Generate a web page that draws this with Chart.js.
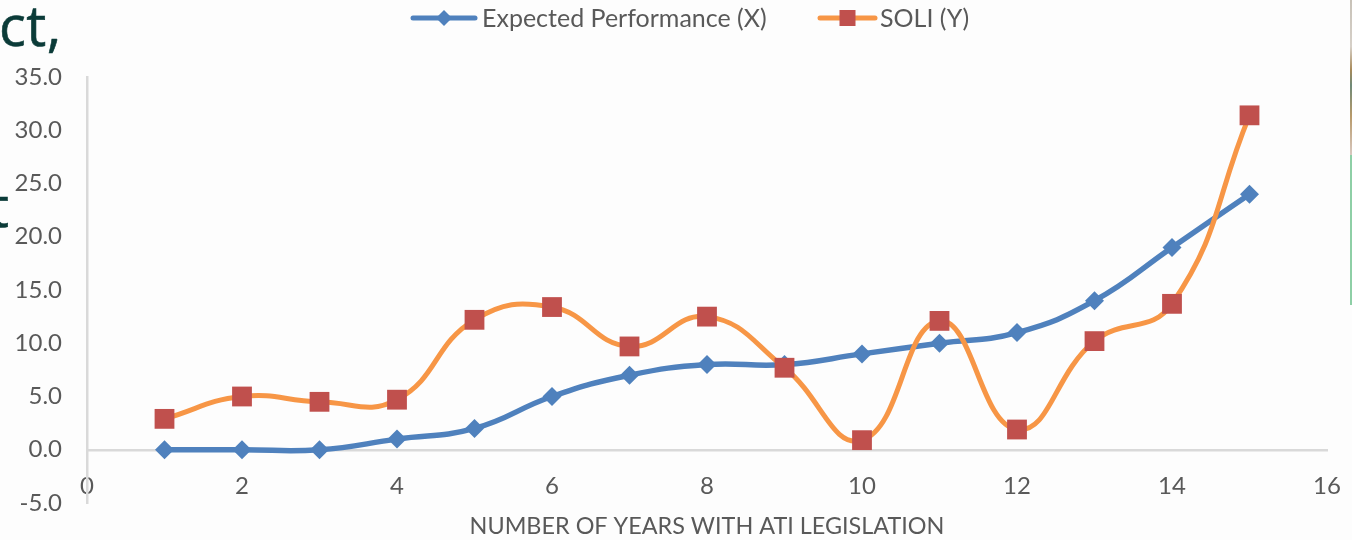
<!DOCTYPE html>
<html>
<head>
<meta charset="utf-8">
<script src="https://cdn.jsdelivr.net/npm/chart.js@4.4.1/dist/chart.umd.min.js"></script>
<style>
  html, body { margin: 0; padding: 0; background: #ffffff; }
  #wrap { position: relative; width: 1352px; height: 540px; overflow: hidden; background: #fdfdfd; }
  #c { position: absolute; left: 0; top: 0; }
  .deco { position: absolute; font-family: "Open Sans", sans-serif; color: #0b3b38; font-size: 56px; line-height: 1; letter-spacing: 0.5px; white-space: nowrap; -webkit-text-stroke: 0.6px #0b3b38; }
  #greenbar { position: absolute; left: 1350px; top: 155px; width: 2px; height: 150px; background: #8ecfa6; }
  #noisebar { position: absolute; left: 1350px; top: 0px; width: 2px; height: 155px;
    background: linear-gradient(#c8c2b8 0%, #d6d0c8 30%, #a88a5a 45%, #6f8a78 55%, #b89a6a 75%, #d8c8c0 100%); }
</style>
</head>
<body>
<div id="wrap">
  <canvas id="c" width="1352" height="540"></canvas>
  <div class="deco" style="left:-1px; top:-4px;">ct,</div>
  <div class="deco" style="left:-11px; top:177px;">t</div>
  <div id="noisebar"></div>
  <div id="greenbar"></div>
</div>
<script>
// ---- data ----
const years = [1, 2, 3, 4, 5, 6, 7, 8, 9, 10, 11, 12, 13, 14, 15];
const expectedPerformance = [0, 0, 0, 1, 2, 5, 7, 8, 8, 9, 10, 11, 14, 19, 24];
const soli = [2.9, 5.0, 4.5, 4.7, 12.2, 13.4, 9.7, 12.5, 7.7, 0.9, 12.1, 1.9, 10.2, 13.7, 31.4];
const seriesNames = ['Expected Performance (X)', 'SOLI (Y)'];
const xTitle = 'NUMBER OF YEARS WITH ATI LEGISLATION';

const BLUE = '#4f81bd';
const ORANGE = '#f79646';
const RED = '#c0504d';
const TEXT = '#595959';
const AXIS = '#d9d9d9';
const FONT = 'Lato, "Open Sans", sans-serif';

const toPts = (xs, ys) => xs.map((x, i) => ({ x: x, y: ys[i] }));

// custom legend (line + marker) and x-axis title
const legendAndTitle = {
  id: 'legendAndTitle',
  afterDraw(chart) {
    const ctx = chart.ctx;
    const a = chart.chartArea;
    ctx.save();
    // x title
    ctx.font = '23.4px ' + FONT;
    ctx.fillStyle = TEXT;
    ctx.textAlign = 'center';
    ctx.textBaseline = 'middle';
    ctx.fillText(xTitle, (a.left + a.right) / 2, 526);

    // legend
    const ly = 18;
    const items = [
      { x0: 413, x1: 475, tx: 482, line: BLUE, mark: BLUE, shape: 'diamond', text: seriesNames[0] },
      { x0: 820, x1: 875, tx: 880, line: ORANGE, mark: RED, shape: 'square', text: seriesNames[1] }
    ];
    items.forEach(it => {
      ctx.strokeStyle = it.line;
      ctx.lineWidth = 5;
      ctx.lineCap = 'round';
      ctx.beginPath(); ctx.moveTo(it.x0, ly); ctx.lineTo(it.x1, ly); ctx.stroke();
      const cx = (it.x0 + it.x1) / 2;
      ctx.fillStyle = it.mark;
      if (it.shape === 'diamond') {
        ctx.beginPath(); ctx.moveTo(cx - 8, ly); ctx.lineTo(cx, ly - 8); ctx.lineTo(cx + 8, ly); ctx.lineTo(cx, ly + 8); ctx.closePath(); ctx.fill();
      } else {
        ctx.fillRect(cx - 8, ly - 8, 16, 16);
      }
      ctx.font = '25px ' + FONT;
      ctx.fillStyle = TEXT;
      ctx.textAlign = 'left';
      ctx.textBaseline = 'middle';
      ctx.fillText(it.text, it.tx, ly + 1);
    });
    ctx.restore();
  }
};

new Chart(document.getElementById('c'), {
  type: 'scatter',
  data: {
    datasets: [
      {
        label: seriesNames[0],
        data: toPts(years, expectedPerformance),
        showLine: true,
        borderColor: BLUE,
        backgroundColor: BLUE,
        borderWidth: 5.5,
        tension: 0.45,
        pointStyle: 'rectRot',
        pointRadius: 9.5,
        pointBorderWidth: 0,
        pointBackgroundColor: BLUE,
        order: 2
      },
      {
        label: seriesNames[1],
        data: toPts(years, soli),
        showLine: true,
        borderColor: ORANGE,
        backgroundColor: RED,
        borderWidth: 5,
        tension: 0.45,
        pointStyle: 'rect',
        pointRadius: 14,
        pointBorderWidth: 0,
        pointBackgroundColor: RED,
        order: 1
      }
    ]
  },
  options: {
    responsive: false,
    animation: false,
    devicePixelRatio: 1,
    layout: { padding: { left: 0, right: 25, top: 77, bottom: 37 } },
    plugins: {
      legend: { display: false },
      tooltip: { enabled: false }
    },
    scales: {
      x: {
        type: 'linear',
        position: { y: 0 },
        min: 0, max: 16,
        ticks: { stepSize: 2, color: TEXT, font: { family: FONT, size: 24 }, padding: 22 },
        grid: { display: false, drawTicks: false },
        border: { display: true, color: AXIS, width: 2.5 },
        afterFit: (s) => { s.paddingLeft = 0; s.paddingRight = 0; }
      },
      y: {
        min: -5, max: 35,
        ticks: { stepSize: 5, color: TEXT, font: { family: FONT, size: 24 }, padding: 25,
                 callback: (v) => Number(v).toFixed(1) },
        grid: { display: false, drawTicks: false },
        border: { display: true, color: AXIS, width: 2.5 },
        afterFit: (s) => { s.width = 87; s.paddingTop = 0; s.paddingBottom = 0; }
      }
    }
  },
  plugins: [legendAndTitle]
});
</script>
</body>
</html>
